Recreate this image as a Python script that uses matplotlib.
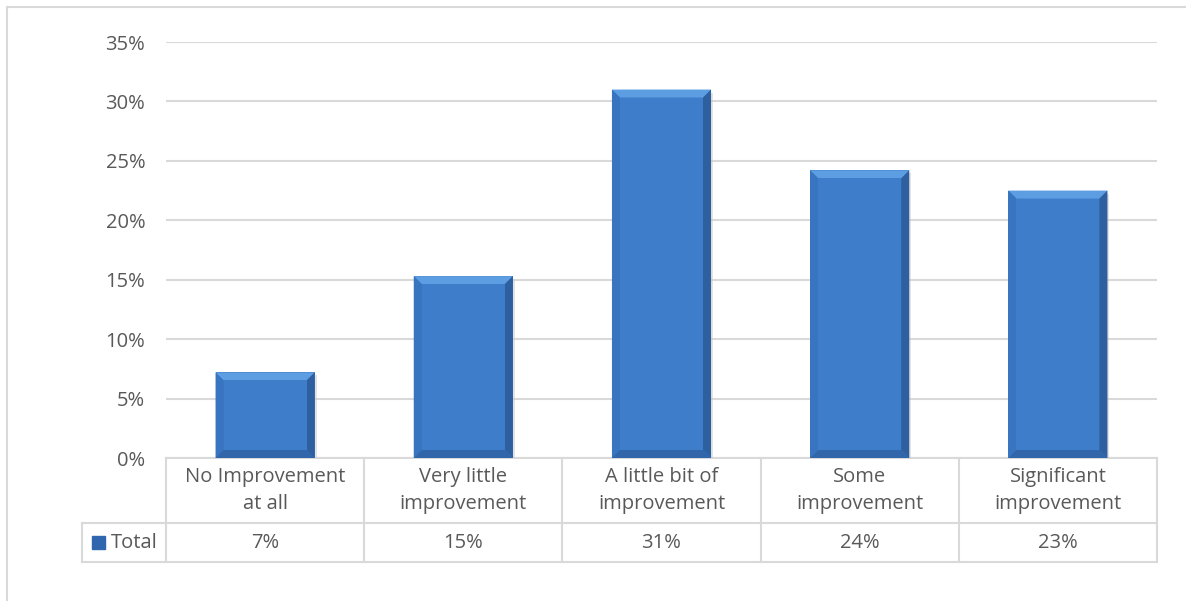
import matplotlib
matplotlib.use("Agg")
import matplotlib.pyplot as plt
from matplotlib.patches import Rectangle, Polygon
from matplotlib.ticker import MultipleLocator, PercentFormatter

categories = ["No Improvement\nat all", "Very little\nimprovement", "A little bit of\nimprovement",
              "Some\nimprovement", "Significant\nimprovement"]
values = [7.2, 15.3, 31.0, 24.2, 22.5]
table_labels = ["7%", "15%", "31%", "24%", "23%"]
series_name = "Total"

TEXT = "#595959"
GRID = "#d9d9d9"
FONT = ["Open Sans", "DejaVu Sans"]
FS = 14.5
plt.rcParams["font.family"] = FONT

W, H = 1186, 601
fig = plt.figure(figsize=(W / 100, H / 100), dpi=100)
fig.patch.set_facecolor("white")

# outer chart border
fig.add_artist(Rectangle((7 / W, -0.1), 1.2, (601 - 7) / H + 0.1, transform=fig.transFigure,
                         fill=False, edgecolor=GRID, lw=1.5))

L, R, T, B = 166, 1157, 42, 458
ax = fig.add_axes([L / W, 1 - B / H, (R - L) / W, (B - T) / H])
ax.set_xlim(-0.5, len(categories) - 0.5)
ax.set_ylim(0, 35)
ax.yaxis.set_major_locator(MultipleLocator(5))
ax.yaxis.set_major_formatter(PercentFormatter(decimals=0))
ax.grid(axis="y", color=GRID, lw=1.5)
ax.set_axisbelow(True)
for s in ax.spines.values():
    s.set_visible(False)
ax.tick_params(axis="y", length=0, pad=15, labelsize=FS, labelcolor=TEXT)
ax.set_xticks([])

x = list(range(len(categories)))
bars = ax.bar(x, values, width=0.5, color="#3b7bc8", edgecolor="none", zorder=3)

# bevel effect derived from each bar's geometry
fig.canvas.draw()
inv = ax.transData.inverted()
def px_to_data(dx, dy):
    p0 = inv.transform((0, 0))
    p1 = inv.transform((dx, dy))
    return p1[0] - p0[0], p1[1] - p0[1]
bx, by = px_to_data(8, 8)
for b in bars:
    x0, y0, w, h = b.get_x(), b.get_y(), b.get_width(), b.get_height()
    x1, y1 = x0 + w, y0 + h
    # shadow
    sx, sy = px_to_data(2, -3)
    ax.add_patch(Rectangle((x0 + sx, y0 + sy), w, h, color="#c8c8c8", alpha=0.5, zorder=2.5, lw=0))
    # top bevel (light)
    ax.add_patch(Polygon([(x0, y1), (x1, y1), (x1 - bx, y1 - by), (x0 + bx, y1 - by)],
                         closed=True, color="#5d9de2", lw=0, zorder=4))
    # left bevel
    ax.add_patch(Polygon([(x0, y0), (x0, y1), (x0 + bx, y1 - by), (x0 + bx, y0 + by)],
                         closed=True, color="#3874bf", lw=0, zorder=4))
    # right bevel (dark)
    ax.add_patch(Polygon([(x1, y0), (x1, y1), (x1 - bx, y1 - by), (x1 - bx, y0 + by)],
                         closed=True, color="#2e5f9f", lw=0, zorder=4))
    # bottom bevel
    ax.add_patch(Polygon([(x0, y0), (x1, y0), (x1 - bx, y0 + by), (x0 + bx, y0 + by)],
                         closed=True, color="#3266aa", lw=0, zorder=4))
    # inner face
    ax.add_patch(Rectangle((x0 + bx, y0 + by), w - 2 * bx, h - 2 * by, color="#3d7dca", lw=0, zorder=4))

# data table below the axes
tr = ax.get_xaxis_transform()
row1 = -(523 - B) / (B - T)
row2 = -(562 - B) / (B - T)
left_x = -0.5 - (L - 82) / (R - L) * len(categories)
lk = dict(color=GRID, lw=1.5, clip_on=False, transform=tr, zorder=1)
ax.plot([-0.5, len(categories) - 0.5], [0, 0], **lk)
ax.plot([left_x, len(categories) - 0.5], [row1, row1], **lk)
ax.plot([left_x, len(categories) - 0.5], [row2, row2], **lk)
ax.plot([left_x, left_x], [row1, row2], **lk)
for i in range(len(categories) + 1):
    ax.plot([i - 0.5, i - 0.5], [0, row2], **lk)
for i, (c, t) in enumerate(zip(categories, table_labels)):
    ax.text(i, row1 / 2, c, transform=tr, ha="center", va="center", fontsize=FS,
            color=TEXT, linespacing=1.5)
    ax.text(i, (row1 + row2) / 2, t, transform=tr, ha="center", va="center", fontsize=FS, color=TEXT)
ax.text(-0.5 - 0.04, (row1 + row2) / 2, series_name, transform=tr, ha="right", va="center",
        fontsize=FS, color=TEXT)
ax.add_patch(Rectangle((left_x + 0.05, (row1 + row2) / 2 - 0.016), 0.065, 0.032, transform=tr,
                       color="#2f66ad", clip_on=False))

fig.savefig("out.png", dpi=100, facecolor="white")
